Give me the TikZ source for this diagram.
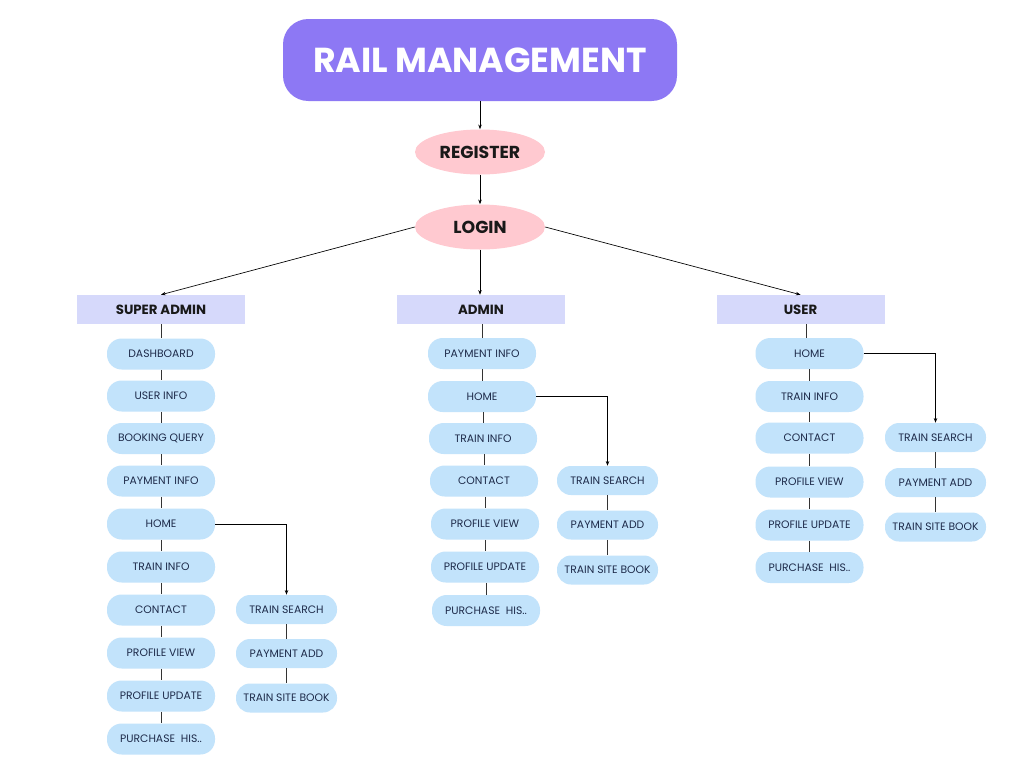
\documentclass[tikz,border=0pt]{standalone}
\usepackage{fontspec}
\setmainfont{Poppins}
\usetikzlibrary{arrows.meta,shapes.geometric}
\definecolor{titlec}{HTML}{8D78F4}
\definecolor{pinkc}{HTML}{FFC9D0}
\definecolor{rolec}{HTML}{D6D9FB}
\definecolor{pillc}{HTML}{C2E3FB}
\definecolor{pilltext}{HTML}{1E2B4A}
\definecolor{linec}{HTML}{333333}
\tikzset{
  titlebox/.style={fill=titlec, rounded corners=19pt, minimum width=295.5pt, minimum height=61.5pt, text=white, font=\fontsize{26}{30}\selectfont\bfseries, inner sep=0pt},
  oval/.style={ellipse, fill=pinkc, minimum width=97.5pt, minimum height=33.75pt, font=\fontsize{13}{15}\selectfont\bfseries, text=black!90, inner sep=0pt},
  rolebox/.style={fill=rolec, minimum width=126pt, minimum height=21.75pt, font=\fontsize{10}{12}\selectfont\bfseries, text=black!90, inner sep=0pt},
  pill/.style={fill=pillc, rounded corners=11pt, minimum width=81pt, minimum height=23.25pt, font=\fontsize{8.1}{10}\selectfont, text=pilltext, inner sep=0pt},
  subpill/.style={fill=pillc, rounded corners=10.5pt, minimum width=75.75pt, minimum height=21.75pt, font=\fontsize{8.1}{10}\selectfont, text=pilltext, inner sep=0pt},
  arr/.style={draw=black, line width=0.5pt, -{Stealth[length=3.5pt,width=2.6pt]}},
  stem/.style={draw=linec, line width=0.7pt},
}
\begin{document}
\begin{tikzpicture}[x=0.75pt,y=-0.75pt]
\useasboundingbox[fill=white] (0,0) rectangle (1024,768);
% top
\node[titlebox] (title) at (480,60) {RAIL MANAGEMENT};
\node[oval] (reg) at (480,152) {REGISTER};
\node[oval] (login) at (480,227) {LOGIN};
\draw[arr] (title.south) -- (reg.north);
\draw[arr] (reg.south) -- (login.north);
% roles
\node[rolebox] (sa) at (161,309.5) {SUPER ADMIN};
\node[rolebox] (ad) at (481,309.5) {ADMIN};
\node[rolebox] (us) at (800.5,309.5) {USER};
\draw[arr] (login.west) -- (sa.north);
\draw[arr] (login.south) -- (login.south |- ad.north);
\draw[arr] (login.east) -- (us.north);
% super admin column
\node[pill] (s1) at (161,354) {DASHBOARD};
\node[pill] (s2) at (161,396) {USER INFO};
\node[pill] (s3) at (161,438.5) {BOOKING QUERY};
\node[pill] (s4) at (161,481) {PAYMENT INFO};
\node[pill] (s5) at (161,524) {HOME};
\node[pill] (s6) at (161,567) {TRAIN INFO};
\node[pill] (s7) at (161,610) {CONTACT};
\node[pill] (s8) at (161,653) {PROFILE VIEW};
\node[pill] (s9) at (161,696) {PROFILE UPDATE};
\node[pill] (s10) at (161,739) {PURCHASE\ \ HIS..};
\draw[stem] (sa.south) -- (s1.north);
\foreach \a/\b in {s1/s2,s2/s3,s3/s4,s4/s5,s5/s6,s6/s7,s7/s8,s8/s9,s9/s10}
  \draw[stem] (\a.south) -- (\b.north);
\node[subpill] (t1) at (286.5,609.5) {TRAIN SEARCH};
\node[subpill] (t2) at (286.5,653.5) {PAYMENT ADD};
\node[subpill] (t3) at (286.5,698) {TRAIN SITE BOOK};
\draw[arr] (s5.east) -| (t1.north);
\draw[stem] (t1.south) -- (t2.north);
\draw[stem] (t2.south) -- (t3.north);
% admin column
\node[pill] (a1) at (482,353.5) {PAYMENT INFO};
\node[pill] (a2) at (482,396.5) {HOME};
\node[pill] (a3) at (483,438.5) {TRAIN INFO};
\node[pill] (a4) at (484,481) {CONTACT};
\node[pill] (a5) at (485,524) {PROFILE VIEW};
\node[pill] (a6) at (485,567) {PROFILE UPDATE};
\node[pill] (a7) at (486,610.5) {PURCHASE\ \ HIS..};
\draw[stem] (a1.north |- ad.south) -- (a1.north);
\foreach \a/\b in {a1/a2,a2/a3,a3/a4,a4/a5,a5/a6,a6/a7}
  \draw[stem] (\b.north |- \a.south) -- (\b.north);
\node[subpill] (b1) at (607.5,480.5) {TRAIN SEARCH};
\node[subpill] (b2) at (607.5,525) {PAYMENT ADD};
\node[subpill] (b3) at (607.5,570) {TRAIN SITE BOOK};
\draw[arr] (a2.east) -| (b1.north);
\draw[stem] (b1.south) -- (b2.north);
\draw[stem] (b2.south) -- (b3.north);
% user column
\node[pill] (u1) at (809.5,353.5) {HOME};
\node[pill] (u2) at (809.5,396.5) {TRAIN INFO};
\node[pill] (u3) at (809.5,438) {CONTACT};
\node[pill] (u4) at (809.5,482) {PROFILE VIEW};
\node[pill] (u5) at (809.5,525) {PROFILE UPDATE};
\node[pill] (u6) at (809.5,567.5) {PURCHASE\ \ HIS..};
\draw[stem] ([xshift=-2.5pt]u1.north |- us.south) -- ([xshift=-2.5pt]u1.north);
\foreach \a/\b in {u1/u2,u2/u3,u3/u4,u4/u5,u5/u6}
  \draw[stem] (\a.south) -- (\b.north);
\node[subpill] (c1) at (935.5,437.5) {TRAIN SEARCH};
\node[subpill] (c2) at (935.5,482.5) {PAYMENT ADD};
\node[subpill] (c3) at (935.5,527) {TRAIN SITE BOOK};
\draw[arr] (u1.east) -| (c1.north);
\draw[stem] (c1.south) -- (c2.north);
\draw[stem] (c2.south) -- (c3.north);
\end{tikzpicture}
\end{document}
